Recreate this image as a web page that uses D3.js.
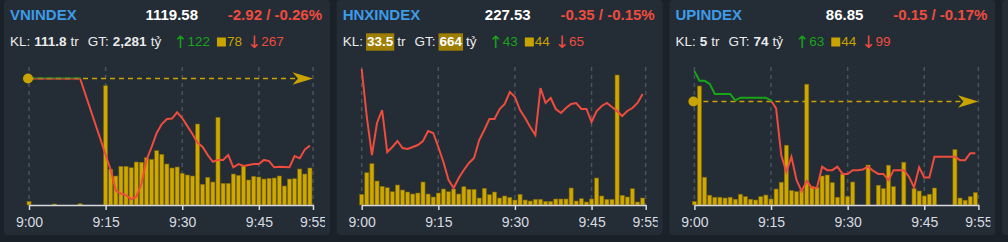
<!DOCTYPE html>
<html>
<head>
<meta charset="utf-8">
<title>Chỉ số thị trường</title>
<script src="https://d3js.org/d3.v7.min.js"></script>
<style>
  body { margin: 0; background: #1b2129; }
  svg { display: block; font-family: "Liberation Sans", Arial, sans-serif; }
</style>
</head>
<body>
<script>
// header values
var names = ["VNINDEX", "HNXINDEX", "UPINDEX"];
var lastValues = ["1119.58", "227.53", "86.85"];
var changes = ["-2.92 / -0.26%", "-0.35 / -0.15%", "-0.15 / -0.17%"];
var klText = ["111.8", "33.5", "5"];
var gtText = ["2,281", "664", "74"];
var advances = [122, 43, 63];
var unchanged = [78, 44, 44];
var declines = [267, 65, 99];
var highlighted = [false, true, false];

// chart setup values
var refPrices = [1122.50, 227.88, 87.00];
var priceDomains = [[1117.0, 1123.0], [226.42, 227.80], [86.70, 87.10]];
var volumeMax = [13800, 4140, 690];
var tickMinutes = [0, 15, 30, 45, 55.6];   // minutes after 9:00, last = current time
var tickLabels = ["9:00", "9:15", "9:30", "9:45", "9:55"];

// one value per minute from 9:00 to 9:55 (null = no trade)
var vnPrice = [1122.50, null, null, null, null, null, null, null, null, null,
  1122.50, null, null, null, null, null, 1118.52, 1117.63, 1117.50, 1117.43,
  1117.26, 1117.35, 1117.91, 1118.96, 1119.52, 1120.13, 1120.52, 1120.74, 1120.76, 1121.03,
  1120.78, 1120.43, 1120.09, 1119.70, 1119.52, 1119.17, 1118.88, 1118.96, 1118.96, 1119.17,
  1118.64, 1118.78, 1118.70, 1118.74, 1118.78, 1118.78, 1118.96, 1118.91, 1118.64, 1118.66,
  1118.65, 1118.64, 1119.13, 1119.03, 1119.41, 1119.58];
var hnxPrice = [227.78, 227.30, 226.92, 227.24, 227.37, 226.95, 227.00, 227.06, 226.99, 226.98,
  227.00, 227.02, 227.06, 227.16, 227.14, 227.00, 226.85, 226.67, 226.59, 226.69,
  226.77, 226.84, 226.89, 227.07, 227.17, 227.28, 227.28, 227.38, 227.43, 227.55,
  227.50, 227.37, 227.29, 227.20, 227.12, 227.59, 227.44, 227.49, 227.38, 227.34,
  227.39, 227.43, 227.44, 227.38, 227.38, 227.25, 227.36, 227.41, 227.44, 227.40,
  227.36, 227.31, 227.36, 227.39, 227.44, 227.53];
var upPrice = [87.088, 87.060, 87.060, 87.051, 87.022, 87.022, 87.022, 87.022, 87.003, 87.011,
  87.011, 87.011, 87.011, 87.011, 87.011, 87.003, 86.980, 86.845, 86.796, 86.840,
  86.772, 86.740, 86.770, 86.750, 86.750, 86.811, 86.801, 86.801, 86.811, 86.790,
  86.790, 86.801, 86.801, 86.803, 86.811, 86.799, 86.790, 86.790, 86.772, 86.801,
  86.801, 86.801, 86.782, 86.751, 86.809, 86.780, 86.780, 86.840, 86.840, 86.840,
  86.840, 86.840, 86.830, 86.830, 86.850, 86.850];

// volume per minute (thousand shares)
var vnVolume = [370, 0, 0, 0, 0, 100, 0, 0, 0, 0,
  130, 0, 0, 0, 0, 11930, 3570, 2900, 3870, 3870,
  3730, 4300, 4270, 4730, 4570, 5430, 5070, 4100, 3700, 3800,
  3170, 3000, 2900, 8100, 2070, 2770, 2300, 8770, 2170, 2170,
  3100, 2970, 3900, 2500, 2870, 2800, 2600, 2670, 2700, 2900,
  1900, 2600, 2630, 3600, 3100, 3700];
var hnxVolume = [321, 969, 1239, 720, 561, 519, 399, 600, 450, 390,
  330, 360, 690, 330, 240, 360, 480, 399, 480, 330,
  549, 471, 471, 210, 501, 309, 390, 210, 270, 231,
  150, 321, 150, 120, 171, 171, 111, 111, 180, 180,
  180, 510, 120, 189, 90, 180, 810, 270, 171, 171,
  3900, 291, 240, 489, 90, 210];
var upVolume = [18, 595, 139, 49, 39, 39, 35, 39, 29, 54,
  42, 29, 25, 42, 50, 30, 80, 114, 299, 72,
  67, 72, 604, 92, 87, 145, 150, 112, 39, 154,
  42, 115, 0, 0, 200, 0, 99, 82, 199, 92,
  0, 214, 0, 82, 70, 45, 54, 85, 0, 0,
  0, 277, 35, 24, 42, 62];

var prices = [vnPrice, hnxPrice, upPrice];
var volumes = [vnVolume, hnxVolume, upVolume];

var RED = "#ef4c3e", GREEN = "#17a617", YELLOW = "#c9a300", BLUE = "#3d9be8";
var W = 1008, H = 242;
var panelX = [4, 336.7, 669.4, 1002.1];
var plotTop = 67, plotBottom = 205;

var svg = d3.select("body").append("svg").attr("width", W).attr("height", H);
svg.append("rect").attr("width", W).attr("height", H).attr("fill", "#1b2129");
var defs = svg.append("defs");

panelX.forEach(function (px) {
  svg.append("rect").attr("x", px).attr("y", 0).attr("width", 326).attr("height", 235)
    .attr("rx", 4).attr("fill", "#242c36");
});

function drawRow(g, x0, yBase, parts) {
  var hlLayer = g.append("g");
  var x = x0;
  parts.forEach(function (p) {
    if (p.square) {
      g.append("rect").attr("x", x).attr("y", yBase - 8.5).attr("width", 9).attr("height", 9)
        .attr("fill", YELLOW);
      x += 9 + p.gap;
      return;
    }
    var t = g.append("text").attr("x", x).attr("y", yBase)
      .attr("font-size", p.arrow ? 17 : 13.5)
      .attr("font-weight", p.bold ? "bold" : "normal")
      .attr("fill", p.color || "#ebebeb")
      .text(p.t);
    if (p.arrow) t.attr("font-family", "DejaVu Sans").attr("y", yBase + 1.5);
    var w = t.node().getComputedTextLength();
    if (p.hl) {
      hlLayer.append("rect").attr("x", x - 1).attr("y", yBase - 12.7).attr("width", w + 2).attr("height", 17.4)
        .attr("fill", "#9e7e00");
      t.attr("fill", "#ffffff");
    }
    x += w + p.gap;
  });
}

function drawPanel(k) {
  var px = panelX[k];
  var g = svg.append("g");

  // header line 1
  g.append("text").attr("x", px + 6).attr("y", 20).attr("font-size", 15).attr("font-weight", "bold")
    .attr("fill", BLUE).text(names[k]);
  g.append("text").attr("x", px + 194).attr("y", 20).attr("text-anchor", "end").attr("font-size", 15)
    .attr("font-weight", "bold").attr("fill", "#ffffff").text(lastValues[k]);
  g.append("text").attr("x", px + 318).attr("y", 20).attr("text-anchor", "end").attr("font-size", 15)
    .attr("font-weight", "bold").attr("fill", RED).text(changes[k]);

  // header line 2
  drawRow(g, px + 6, 46, [
    { t: "KL:", gap: 4 },
    { t: klText[k], bold: true, hl: highlighted[k], gap: 4 },
    { t: "tr", gap: 9 },
    { t: "GT:", gap: 4 },
    { t: gtText[k], bold: true, hl: highlighted[k], gap: 4 },
    { t: "tỷ", gap: 12 },
    { t: "↑", color: GREEN, arrow: true, gap: 0 },
    { t: advances[k], color: GREEN, gap: 7 },
    { square: true, gap: 1 },
    { t: unchanged[k], color: YELLOW, gap: 5 },
    { t: "↓", color: RED, arrow: true, gap: 0 },
    { t: declines[k], color: RED, gap: 0 }
  ]);

  var x = d3.scaleLinear().domain([0, tickMinutes[tickMinutes.length - 1]]).range([px + 25, px + 309]);
  var y = d3.scaleLinear().domain(priceDomains[k]).range([plotBottom, plotTop]);
  var yv = d3.scaleLinear().domain([0, volumeMax[k]]).range([plotBottom, plotTop]);

  defs.append("clipPath").attr("id", "panel" + k)
    .append("rect").attr("x", px).attr("y", 0).attr("width", 321).attr("height", H);
  var c = g.append("g").attr("clip-path", "url(#panel" + k + ")");

  // vertical dashed grid
  c.selectAll(".grid").data(tickMinutes).enter().append("line")
    .attr("x1", function (d) { return x(d); }).attr("x2", function (d) { return x(d); })
    .attr("y1", plotTop).attr("y2", plotBottom)
    .attr("stroke", "#4a525c").attr("stroke-width", 1.5).attr("stroke-dasharray", "4,4");

  // volume bars
  var bw = (x(1) - x(0)) * 0.8;
  var bars = volumes[k].map(function (v, i) { return { i: i, v: v }; }).filter(function (d) { return d.v > 0; });
  c.selectAll(".bar").data(bars).enter().append("rect")
    .attr("x", function (d) { return x(d.i) - bw / 2; })
    .attr("y", function (d) { return yv(d.v); })
    .attr("width", bw)
    .attr("height", function (d) { return plotBottom - yv(d.v); })
    .attr("fill", "#cea700").attr("stroke", "#7b6608").attr("stroke-width", 0.6);

  // reference price line
  var refY = y(refPrices[k]);
  var showRef = refY >= plotTop;
  if (showRef) {
    var xEnd = x(tickMinutes[tickMinutes.length - 1]);
    c.append("line").attr("x1", x(0)).attr("x2", xEnd - 12).attr("y1", refY).attr("y2", refY)
      .attr("stroke", YELLOW).attr("stroke-width", 1.5).attr("stroke-dasharray", "5,4");
    c.append("path")
      .attr("d", "M" + xEnd + "," + refY + "L" + (xEnd - 20.5) + "," + (refY - 6.2) +
        "L" + (xEnd - 15) + "," + refY + "L" + (xEnd - 20.5) + "," + (refY + 6.2) + "Z")
      .attr("fill", YELLOW);
  }

  // price line, green above reference, red below
  var pts = prices[k].map(function (p, i) { return { i: i, p: p }; }).filter(function (d) { return d.p != null; });
  var line = d3.line().x(function (d) { return x(d.i); }).y(function (d) { return y(d.p); });
  defs.append("clipPath").attr("id", "up" + k)
    .append("rect").attr("x", px).attr("y", 0).attr("width", 326).attr("height", Math.max(0, refY));
  defs.append("clipPath").attr("id", "down" + k)
    .append("rect").attr("x", px).attr("y", refY).attr("width", 326).attr("height", H);
  g.append("path").datum(pts).attr("d", line).attr("fill", "none").attr("stroke", GREEN)
    .attr("stroke-width", 2).attr("clip-path", "url(#up" + k + ")");
  g.append("path").datum(pts).attr("d", line).attr("fill", "none").attr("stroke", RED)
    .attr("stroke-width", 2).attr("clip-path", "url(#down" + k + ")");

  if (showRef) {
    g.append("circle").attr("cx", x(0) - 1).attr("cy", refY).attr("r", 5).attr("fill", YELLOW);
  }

  // time axis
  var axis = d3.axisBottom(x).tickValues(tickMinutes)
    .tickFormat(function (d, i) { return tickLabels[i]; })
    .tickSize(5).tickSizeOuter(0).tickPadding(7);
  var ax = c.append("g").attr("transform", "translate(0," + plotBottom + ")").call(axis);
  ax.select(".domain").attr("stroke", "#d5d9de").attr("stroke-width", 1.5);
  ax.selectAll(".tick line").attr("stroke", "#d5d9de").attr("stroke-width", 1.5);
  ax.selectAll("text").attr("fill", "#d8dbe0").attr("font-size", 14)
    .attr("font-family", "Liberation Sans, Arial, sans-serif");
}

for (var k = 0; k < 3; k++) drawPanel(k);
</script>
</body>
</html>
